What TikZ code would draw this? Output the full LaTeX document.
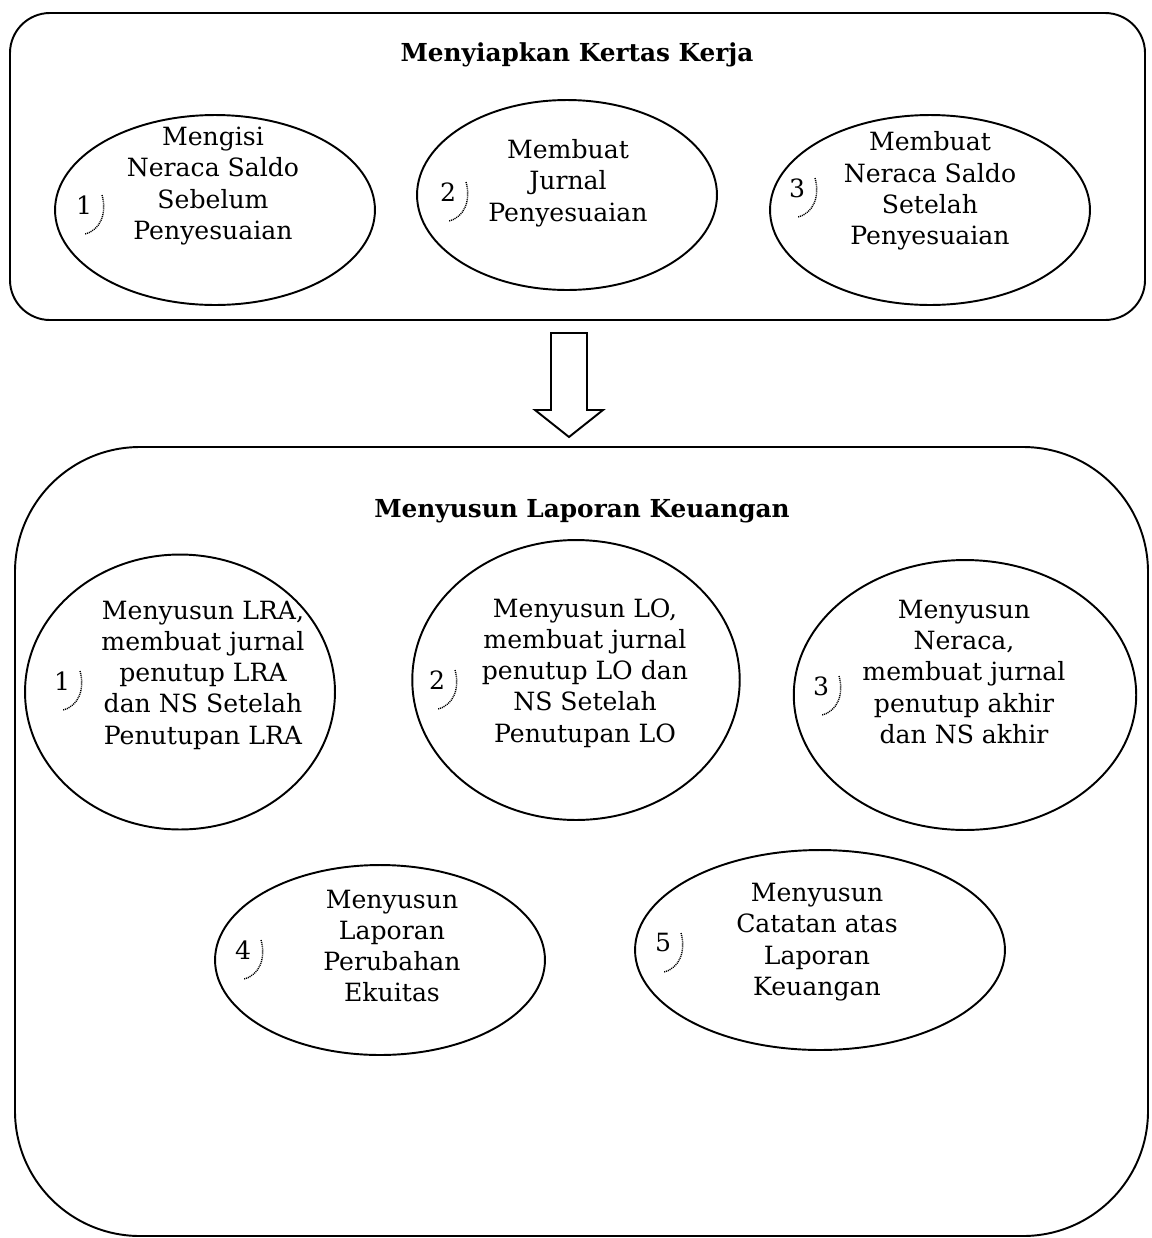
\documentclass[tikz,border=0pt]{standalone}
\usepackage{fontspec}
\setmainfont{DejaVu Serif}
\usetikzlibrary{shapes.geometric}
\newcommand{\fsz}{\fontsize{14.3}{17.8}\selectfont}
\newcommand{\tsz}{\fontsize{14.1}{17.8}\selectfont}
\begin{document}
\begin{tikzpicture}[x=0.02cm,y=-0.02cm,
  oval/.style={draw,line width=1.1pt,ellipse,inner sep=0pt},
  txt/.style={align=center,font=\fsz,inner sep=0pt},
  num/.style={font=\fsz,inner sep=0pt},
  ttl/.style={font=\tsz\bfseries,inner sep=0pt},
  frame/.style={draw,line width=1.1pt},
  numarc/.style={line width=0.8pt,dash pattern=on 0.6pt off 0.5pt}]
\useasboundingbox (0,0) rectangle (1152,1238);
% top frame
\draw[frame,rounded corners=0.8cm] (10,13) rectangle (1145,320);
\node[ttl] (t1) at (577,55) {Menyiapkan Kertas Kerja};
\node[oval,minimum width=6.4cm,minimum height=3.8cm] (e1) at (215,210) {};
\node[oval,minimum width=6.0cm,minimum height=3.8cm] (e2) at (567,195) {};
\node[oval,minimum width=6.4cm,minimum height=3.8cm] (e3) at (930,210) {};
\node[txt] (x1) at (213,186) {Mengisi\\Neraca Saldo\\Sebelum\\Penyesuaian};
\node[txt] (x2) at (568,183) {Membuat\\Jurnal\\Penyesuaian};
\node[txt] (x3) at (930,191) {Membuat\\Neraca Saldo\\Setelah\\Penyesuaian};
% arrow
\draw[line width=1.1pt,line join=miter] (551,333) -- (587,333) -- (587,410) -- (603,410) -- (569,437) -- (535,410) -- (551,410) -- cycle;
% bottom frame
\draw[frame,rounded corners=2.5cm] (15,447) rectangle (1148,1236);
\node[ttl] (t2) at (582,511) {Menyusun Laporan Keuangan};
\node[oval,minimum width=6.2cm,minimum height=5.5cm] (b1) at (180,692) {};
\node[oval,minimum width=6.55cm,minimum height=5.6cm] (b2) at (576,680) {};
\node[oval,minimum width=6.85cm,minimum height=5.4cm] (b3) at (965,695) {};
\node[oval,minimum width=6.6cm,minimum height=3.8cm] (b4) at (380,960) {};
\node[oval,minimum width=7.4cm,minimum height=4.0cm] (b5) at (820,950) {};
\node[txt] (y1) at (203,675) {Menyusun LRA,\\membuat jurnal\\penutup LRA\\dan NS Setelah\\Penutupan LRA};
\node[txt] (y2) at (585,673) {Menyusun LO,\\membuat jurnal\\penutup LO dan\\NS Setelah\\Penutupan LO};
\node[txt] (y3) at (964,672) {Menyusun\\Neraca,\\membuat jurnal\\penutup akhir\\dan NS akhir};
\node[txt] (y4) at (392,946) {Menyusun\\Laporan\\Perubahan\\Ekuitas};
\node[txt] (y5) at (817,942) {Menyusun\\Catatan atas\\Laporan\\Keuangan};
% numbers with marks
\foreach \n/\px/\py/\lab in {n1/84/205/1, n2/448/192/2, n3/797/188/3, m1/62/681/1, m2/437/680/2, m3/821/686/3, m4/243/950/4, m5/663/943/5}{
  \node[num] (\n) at (\px,\py) {\lab};
  \draw[numarc] ([xshift=0.36cm,yshift=0.2cm]\n.center) .. controls ([xshift=0.46cm,yshift=-0.15cm]\n.center) and ([xshift=0.34cm,yshift=-0.5cm]\n.center) .. ([xshift=0.02cm,yshift=-0.58cm]\n.center);
}
\end{tikzpicture}
\end{document}
